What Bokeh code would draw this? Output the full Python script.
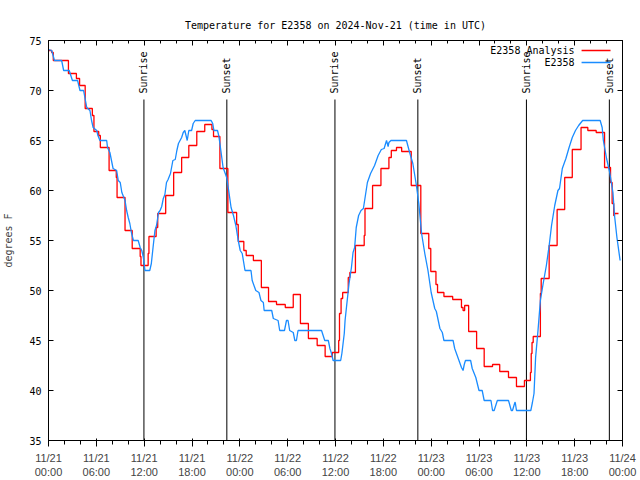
import math
from bokeh.plotting import figure
from bokeh.models import FixedTicker, LinearAxis, Range1d
from bokeh.core.properties import value
from bokeh.embed import file_html
from bokeh.resources import INLINE

TITLE = "Temperature for E2358 on 2024-Nov-21 (time in UTC)"
Y_LABEL = "degrees F"

# hours since 2024-11-21 00:00 UTC
analysis_hours = [0.0, 0.4, 0.6, 2.5, 3.5, 3.9, 4.6, 5.5, 5.7, 6.3, 6.5, 7.6, 8.5, 8.6, 9.6,
                  10.5, 11.5, 11.6, 12.5, 12.6, 13.5, 13.7, 14.7, 15.7, 16.7, 17.6, 18.6, 19.6,
                  20.5, 20.7, 21.5, 22.5, 23.6, 23.8, 24.5, 24.8, 25.7, 26.7, 27.6, 28.6, 29.7,
                  30.7, 31.6, 32.6, 33.7, 34.7, 35.6, 36.4, 36.5, 36.7, 36.9, 37.6, 37.8, 38.5,
                  39.6, 39.7, 40.65, 41.7, 42.7, 43.0, 43.65, 44.3, 45.5, 46.7, 47.7, 47.95,
                  48.6, 48.8, 49.6, 50.7, 51.8, 52.0, 52.2, 52.7, 53.7, 54.65, 55.7, 56.6, 57.7,
                  58.7, 59.7, 60.45, 60.55, 60.65, 60.8, 61.7, 61.8, 62.8, 63.8, 64.75, 65.7,
                  66.8, 67.65, 68.7, 69.75, 70.5, 70.7, 70.9, 71.0, 71.5]
analysis_temp = [74.0, 73.8, 73.0, 71.7, 71.2, 70.5, 68.2, 67.5, 65.9, 65.5, 64.3, 62.0, 61.3, 59.3, 56.0,
                 54.2, 53.4, 52.5, 53.7, 55.4, 56.3, 57.7, 59.5, 61.8, 63.3, 64.5, 65.9, 66.6,
                 66.1, 65.4, 62.2, 57.8, 56.6, 54.9, 54.0, 53.5, 53.0, 50.3, 48.9, 48.6, 48.3,
                 49.6, 46.7, 45.2, 44.5, 43.4, 43.8, 45.0, 47.7, 49.2, 49.8, 51.3, 51.8, 54.5,
                 55.5, 58.2, 60.5, 62.2, 63.3, 64.0, 64.3, 63.9, 60.5, 55.7, 54.2, 51.9,
                 50.6, 49.8, 49.4, 49.1, 48.3, 48.0, 48.5, 45.9, 44.2, 42.4, 42.6, 41.9, 41.3,
                 40.4, 41.0, 41.8, 43.7, 44.8, 45.4, 49.7, 51.2, 54.5, 58.1, 61.3, 64.1,
                 66.3, 66.0, 65.8, 62.3, 60.8, 58.7, 57.5, 57.7, 57.7]

obs_hours = [0.0, 0.4, 0.75, 1.65, 1.9, 2.6, 3.0, 3.65, 3.95, 4.4, 4.8, 5.2, 5.4, 5.6, 6.05, 6.2,
             6.45, 7.3, 7.4, 7.7, 7.9, 8.1, 8.55, 8.75, 9.0, 9.2, 9.6, 9.8, 10.0, 10.2, 10.4,
             10.65, 11.25, 11.5, 11.7, 11.9, 12.1, 12.7, 12.9, 13.1, 13.35, 13.55, 13.8, 14.0,
             14.2, 14.4, 14.6, 14.8, 15.0, 15.3, 15.6, 15.9, 16.1, 16.3, 16.5, 16.7, 16.9,
             17.1, 17.4, 17.6, 17.95, 18.15, 18.4, 20.4, 20.6, 20.75, 21.2, 21.35, 21.5, 21.7,
             21.9, 22.35, 22.6, 22.9, 23.2, 23.5, 23.8, 24.05, 24.3, 24.65, 25.4, 25.55, 26.0,
             26.4, 26.65, 26.95, 27.05, 28.0, 28.2, 28.8, 29.0, 29.6, 29.85, 30.05, 30.25, 30.7,
             30.9, 31.1, 31.3, 34.25, 34.65, 35.1, 35.3, 35.5, 35.7, 36.65, 36.8, 36.95, 37.1,
             37.2, 37.4, 37.7, 38.0, 38.2, 38.4, 38.6, 38.9, 39.2, 39.5, 39.75, 40.0, 40.4,
             40.9, 41.35, 41.75, 42.1, 42.4, 42.6, 42.7, 42.95, 44.9, 45.3, 45.7, 46.15, 46.45,
             46.8, 47.2, 47.6, 48.0, 48.45, 48.65, 49.1, 49.4, 49.6, 50.75, 50.95, 51.4, 51.8,
             52.0, 52.15, 52.3, 52.95, 53.15, 53.6, 54.0, 54.4, 54.65, 55.5, 55.7, 55.9, 56.3,
             57.7, 58.05, 58.2, 58.5, 58.55, 58.7, 60.5, 60.7, 60.9, 61.1, 61.4, 61.7, 62.05,
             62.45, 62.8, 63.1, 63.5, 63.9, 64.1, 64.45, 64.9, 65.3, 65.7, 66.1, 66.5, 67.0,
             69.2, 69.45, 69.6, 70.0, 70.4, 70.8, 71.0, 71.3, 71.7]
obs_temp = [74.1, 74.0, 73.0, 73.0, 72.0, 72.0, 71.0, 71.0, 70.0, 70.0, 68.3, 68.0, 67.0, 66.3, 66.0, 65.5,
            65.0, 65.0, 64.3, 63.8, 63.0, 62.2, 62.0, 61.0, 60.8, 59.8, 59.0, 58.0, 57.3, 56.7, 55.8,
            55.0, 55.0, 54.3, 54.0, 53.3, 52.0, 52.0, 52.7, 54.2, 56.0, 56.5, 57.8, 58.0,
            58.4, 59.2, 59.6, 60.8, 61.1, 61.7, 63.0, 63.1, 64.0, 64.7, 65.0, 65.3, 65.8,
            66.0, 65.0, 66.0, 66.0, 66.7, 67.0, 67.0, 66.7, 66.0, 66.0, 65.5, 64.7, 63.5,
            62.3, 61.3, 60.0, 58.3, 57.5, 56.5, 55.0, 54.0, 53.7, 52.0, 52.0, 51.0, 50.0,
            49.8, 49.0, 48.8, 48.0, 48.0, 47.2, 47.0, 46.0, 46.0, 47.0, 47.0, 46.0, 45.8,
            45.0, 45.0, 46.0, 46.0, 45.0, 45.0, 44.2, 43.7, 43.0, 43.0, 43.7, 44.7, 45.7,
            47.0, 48.5, 50.7, 52.3, 53.8, 54.3, 56.3, 57.5, 58.0, 58.2, 59.5, 60.8, 61.7,
            62.5, 63.5, 64.1, 64.2, 65.0, 64.4, 64.8, 65.0, 65.0, 63.8, 62.7, 60.5, 58.7,
            55.7, 53.7, 52.0, 49.8, 48.2, 47.9, 46.2, 45.8, 45.0, 45.0, 44.2, 43.2, 42.3,
            42.0, 42.6, 43.0, 43.0, 42.2, 41.3, 40.0, 40.0, 39.0, 39.0, 38.0, 38.0, 39.0,
            39.0, 38.0, 38.0, 38.8, 38.8, 38.0, 38.0, 38.8, 39.7, 43.3, 46.0, 49.0, 50.7,
            52.5, 54.5, 56.5, 58.5, 60.0, 60.2, 62.2, 63.2, 64.3, 65.3, 66.0, 66.5, 67.0,
            67.0, 66.3, 65.0, 63.2, 61.8, 59.8, 57.5, 55.3, 53.0]

sun_hours = [11.97, 22.37, 35.93, 46.33, 59.95, 70.35]
sun_names = ["Sunrise", "Sunset", "Sunrise", "Sunset", "Sunrise", "Sunset"]

x_tick_hours = [0, 6, 12, 18, 24, 30, 36, 42, 48, 54, 60, 66, 72]
x_tick_labels = ["11/21\n00:00", "11/21\n06:00", "11/21\n12:00", "11/21\n18:00",
                 "11/22\n00:00", "11/22\n06:00", "11/22\n12:00", "11/22\n18:00",
                 "11/23\n00:00", "11/23\n06:00", "11/23\n12:00", "11/23\n18:00",
                 "11/24\n00:00"]
x_minor_hours = list(range(0, 73, 2))
y_ticks = [35, 40, 45, 50, 55, 60, 65, 70, 75]

series_names = ["E2358 Analysis", "E2358"]
RED = "#ff0000"
BLUE = "#1a8cff"
FONT = "DejaVu Sans Mono"
FS = "10px"

X0, X1, Y0, Y1 = 0, 72, 35, 75
FL, FT, FW, FH = 47, 40, 575, 400  # frame geometry in pixels


def px_x(px):
    return X0 + (px - FL) / FW * (X1 - X0)


def px_y(py):
    return Y1 - (py - FT) / FH * (Y1 - Y0)


p = figure(width=640, height=480, x_range=Range1d(X0, X1), y_range=Range1d(Y0, Y1),
           output_backend="svg", toolbar_location=None,
           min_border_left=FL, min_border_right=640 - FL - FW,
           min_border_top=FT, min_border_bottom=480 - FT - FH)
p.background_fill_color = "white"
p.border_fill_color = "white"
p.outline_line_color = "black"
p.outline_line_width = 1
p.xgrid.visible = False
p.ygrid.visible = False

p.title.text = TITLE
p.title.align = "center"
p.title.text_font = FONT
p.title.text_font_size = FS
p.title.text_font_style = "normal"
p.title.text_color = "black"
p.title.standoff = 19

xt = FixedTicker(ticks=x_tick_hours, minor_ticks=x_minor_hours)
yt = FixedTicker(ticks=y_ticks)

for ax in p.xaxis:
    ax.ticker = xt
    ax.major_label_overrides = {h: l for h, l in zip(x_tick_hours, x_tick_labels)}
for ax in p.yaxis:
    ax.ticker = yt
    ax.axis_label = Y_LABEL

top = LinearAxis(ticker=xt, major_label_overrides={h: "" for h in x_tick_hours})
right = LinearAxis(ticker=yt, major_label_overrides={v: "" for v in y_ticks})
p.add_layout(top, "above")
p.add_layout(right, "right")

for ax in [p.xaxis[0], p.yaxis[0], top, right]:
    ax.axis_line_color = "black"
    ax.major_tick_line_color = "black"
    ax.major_tick_in = 5
    ax.major_tick_out = 0
    ax.minor_tick_in = 3
    ax.minor_tick_out = 0
    ax.major_label_text_font = FONT
    ax.major_label_text_font_size = FS
    ax.major_label_text_color = "black"
    ax.axis_label_text_font = FONT
    ax.axis_label_text_font_size = FS
    ax.axis_label_text_font_style = "normal"
p.yaxis[0].minor_tick_line_color = None
right.minor_tick_line_color = None
p.yaxis[0].major_label_standoff = 7
p.yaxis[0].axis_label_standoff = 12
p.xaxis[0].major_label_standoff = 2
p.xaxis[0].major_label_text_line_height = 1.0
for ax in [top, right]:
    ax.major_label_standoff = 0

# sunrise / sunset markers
line_top = px_y(99)
p.segment(x0=sun_hours, y0=[Y0] * len(sun_hours), x1=sun_hours, y1=[line_top] * len(sun_hours),
          line_color="black", line_width=1)
p.text(x=sun_hours, y=[px_y(93)] * len(sun_hours), text=sun_names, angle=math.pi / 2,
       text_align="left", text_baseline="middle", text_font=value(FONT),
       text_font_size=value(FS), text_color="black")

# data
p.step(analysis_hours, analysis_temp, mode="after", line_color=RED, line_width=1.3)
p.line(obs_hours, obs_temp, line_color=BLUE, line_width=1.3)

# legend (gnuplot style: text then sample)
leg_y = [px_y(50), px_y(62)]
p.text(x=[px_x(574)] * 2, y=leg_y, text=series_names, text_align="right",
       text_baseline="middle", text_font=value(FONT), text_font_size=value(FS), text_color="black")
for yy, c in zip(leg_y, [RED, BLUE]):
    p.line([px_x(581), px_x(610)], [yy, yy], line_color=c, line_width=1.3)

open("out.html", "w").write(file_html(p, INLINE))
